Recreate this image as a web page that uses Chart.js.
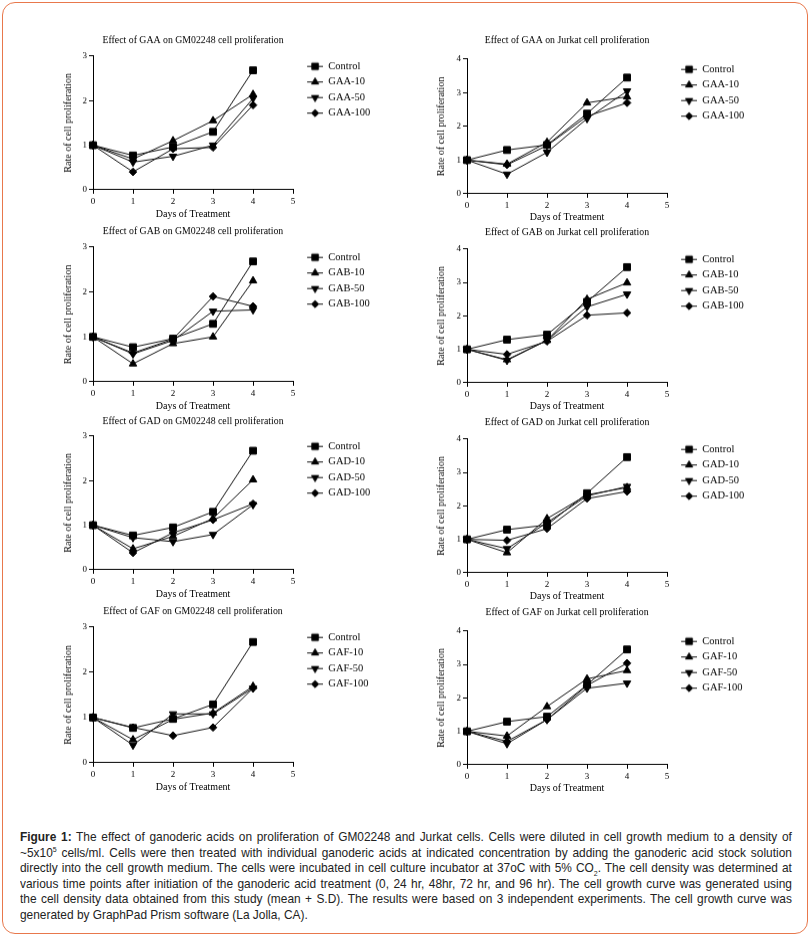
<!DOCTYPE html>
<html><head><meta charset="utf-8">
<script src="https://cdn.jsdelivr.net/npm/chart.js@4.4.1/dist/chart.umd.min.js"></script>
<style>
html,body{margin:0;padding:0;background:#fff;}
body{width:811px;height:938px;position:relative;overflow:hidden;}
#frame{position:absolute;left:2px;top:2px;width:806px;height:932px;border:1.5px solid #e8784c;border-radius:13px;box-sizing:border-box;}
.panel{position:absolute;}
#caption{position:absolute;left:20px;top:829px;width:830px;font-family:"Liberation Sans",Arial,sans-serif;font-size:12.8px;line-height:15.6px;color:#222;transform:scaleX(0.93);transform-origin:0 0;}
#caption div{text-align:justify;text-align-last:justify;}
#caption div.last{text-align-last:left;}
sup,sub{font-size:7.5px;line-height:0;}
</style></head>
<body>
<div id="frame"></div>
<div id="caption">
<div><b>Figure 1:</b> The effect of ganoderic acids on proliferation of GM02248 and Jurkat cells. Cells were diluted in cell growth medium to a density of</div>
<div>~5x10<sup>5</sup> cells/ml. Cells were then treated with individual ganoderic acids at indicated concentration by adding the ganoderic acid stock solution</div>
<div>directly into the cell growth medium. The cells were incubated in cell culture incubator at 37oC with 5% CO<sub>2</sub>. The cell density was determined at</div>
<div>various time points after initiation of the ganoderic acid treatment (0, 24 hr, 48hr, 72 hr, and 96 hr). The cell growth curve was generated using</div>
<div>the cell density data obtained from this study (mean + S.D). The results were based on 3 independent experiments. The cell growth curve was</div>
<div class="last">generated by GraphPad Prism software (La Jolla, CA).</div>
</div>
<script>
// ---------- data ----------
const days = [0, 1, 2, 3, 4];
const xTicks = [0, 1, 2, 3, 4, 5];

// GM02248 cells
const gaaGM_control = [1.00, 0.77, 0.96, 1.30, 2.68];
const gaaGM_10      = [1.00, 0.69, 1.10, 1.55, 2.14];
const gaaGM_50      = [1.00, 0.62, 0.75, 1.00, 2.05];
const gaaGM_100     = [1.00, 0.40, 0.92, 0.95, 1.90];

const gabGM_control = [1.00, 0.77, 0.96, 1.29, 2.68];
const gabGM_10      = [1.00, 0.40, 0.85, 1.00, 2.25];
const gabGM_50      = [1.00, 0.62, 0.92, 1.57, 1.60];
const gabGM_100     = [1.00, 0.64, 0.95, 1.90, 1.68];

const gadGM_control = [1.00, 0.77, 0.95, 1.30, 2.67];
const gadGM_10      = [1.00, 0.47, 0.75, 1.15, 2.02];
const gadGM_50      = [1.00, 0.72, 0.63, 0.79, 1.46];
const gadGM_100     = [1.00, 0.38, 0.83, 1.12, 1.48];

const gafGM_control = [1.00, 0.77, 0.97, 1.29, 2.67];
const gafGM_10      = [1.00, 0.51, 0.96, 1.10, 1.69];
const gafGM_50      = [1.00, 0.39, 1.08, 1.08, 1.65];
const gafGM_100     = [1.00, 0.78, 0.60, 0.78, 1.65];

// Jurkat cells
const gaaJK_control = [1.00, 1.30, 1.45, 2.38, 3.45];
const gaaJK_10      = [1.00, 0.88, 1.53, 2.70, 2.88];
const gaaJK_50      = [1.00, 0.58, 1.23, 2.23, 3.05];
const gaaJK_100     = [1.00, 0.86, 1.43, 2.30, 2.70];

const gabJK_control = [1.00, 1.29, 1.44, 2.42, 3.46];
const gabJK_10      = [1.00, 0.69, 1.27, 2.50, 2.99];
const gabJK_50      = [1.00, 0.67, 1.27, 2.27, 2.65];
const gabJK_100     = [1.00, 0.85, 1.24, 2.02, 2.09];

const gadJK_control = [1.00, 1.29, 1.43, 2.38, 3.46];
const gadJK_10      = [1.00, 0.60, 1.62, 2.33, 2.55];
const gadJK_50      = [1.00, 0.72, 1.50, 2.30, 2.58];
const gadJK_100     = [1.00, 0.97, 1.32, 2.22, 2.43];

const gafJK_control = [1.00, 1.29, 1.44, 2.39, 3.45];
const gafJK_10      = [1.00, 0.86, 1.74, 2.57, 2.82];
const gafJK_50      = [1.00, 0.63, 1.35, 2.29, 2.44];
const gafJK_100     = [1.00, 0.70, 1.35, 2.37, 3.04];

const namesGAA = ['Control', 'GAA-10', 'GAA-50', 'GAA-100'];
const namesGAB = ['Control', 'GAB-10', 'GAB-50', 'GAB-100'];
const namesGAD = ['Control', 'GAD-10', 'GAD-50', 'GAD-100'];
const namesGAF = ['Control', 'GAF-10', 'GAF-50', 'GAF-100'];

// ---------- layout / style ----------
const SERIF = '"Liberation Serif", "Times New Roman", serif';
const markerStyles = [
  {pointStyle: 'rect', rotation: 0, radius: 4.8},
  {pointStyle: 'triangle', rotation: 0, radius: 4.3},
  {pointStyle: 'triangle', rotation: 180, radius: 4.3},
  {pointStyle: 'rectRot', rotation: 0, radius: 3.8}
];

const panels = [
  {title: 'Effect of GAA on GM02248 cell proliferation', names: namesGAA, series: [gaaGM_control, gaaGM_10, gaaGM_50, gaaGM_100], yMax: 3, side: 'L', area: {l: 93, r: 293, t: 56, b: 189}, titleY: 41},
  {title: 'Effect of GAA on Jurkat cell proliferation', names: namesGAA, series: [gaaJK_control, gaaJK_10, gaaJK_50, gaaJK_100], yMax: 4, side: 'R', area: {l: 467, r: 667, t: 59, b: 193}, titleY: 41},
  {title: 'Effect of GAB on GM02248 cell proliferation', names: namesGAB, series: [gabGM_control, gabGM_10, gabGM_50, gabGM_100], yMax: 3, side: 'L', area: {l: 93, r: 293, t: 247, b: 381}, titleY: 232},
  {title: 'Effect of GAB on Jurkat cell proliferation', names: namesGAB, series: [gabJK_control, gabJK_10, gabJK_50, gabJK_100], yMax: 4, side: 'R', area: {l: 467, r: 667, t: 249, b: 382}, titleY: 233},
  {title: 'Effect of GAD on GM02248 cell proliferation', names: namesGAD, series: [gadGM_control, gadGM_10, gadGM_50, gadGM_100], yMax: 3, side: 'L', area: {l: 93, r: 293, t: 436, b: 569}, titleY: 422},
  {title: 'Effect of GAD on Jurkat cell proliferation', names: namesGAD, series: [gadJK_control, gadJK_10, gadJK_50, gadJK_100], yMax: 4, side: 'R', area: {l: 467, r: 667, t: 439, b: 572}, titleY: 423},
  {title: 'Effect of GAF on GM02248 cell proliferation', names: namesGAF, series: [gafGM_control, gafGM_10, gafGM_50, gafGM_100], yMax: 3, side: 'L', area: {l: 93, r: 293, t: 627, b: 762}, titleY: 612},
  {title: 'Effect of GAF on Jurkat cell proliferation', names: namesGAF, series: [gafJK_control, gafJK_10, gafJK_50, gafJK_100], yMax: 4, side: 'R', area: {l: 467, r: 667, t: 631, b: 764}, titleY: 613}
];

const SW_W = 25;
function legendSwatch(m) {
  const c = document.createElement('canvas');
  c.width = SW_W; c.height = 11;
  const ctx = c.getContext('2d');
  ctx.strokeStyle = '#111'; ctx.lineWidth = 1;
  ctx.beginPath(); ctx.moveTo(9, 5.5); ctx.lineTo(SW_W, 5.5); ctx.stroke();
  ctx.fillStyle = '#000'; ctx.strokeStyle = '#000';
  Chart.helpers.drawPoint(ctx, {pointStyle: m.pointStyle, rotation: m.rotation, radius: m.radius * 0.95, borderWidth: 1}, 17, 5.5);
  return c;
}
const swatches = markerStyles.map(legendSwatch);

function makeChart(p) {
  const titleSize = 9.8, titleLH = titleSize * 1.2;
  const axisTitleSize = 10, axisLH = axisTitleSize * 1.2;
  const yW = 40;
  const xH = p.side === 'L' ? 30 : 29;
  const canvasLeft = p.area.l - yW;
  const canvasTop = p.titleY - titleLH / 2 - 4;
  const canvasW = p.side === 'L' ? 345 : 372;
  const canvasH = p.area.b + xH - canvasTop;
  const titlePadBottom = p.area.t - canvasTop - 4 - titleLH;
  const yTitleTop = (p.side === 'L' ? 68 : 441.7) - (p.area.l - yW) - axisLH / 2;

  const div = document.createElement('div');
  div.className = 'panel';
  div.style.left = canvasLeft + 'px'; div.style.top = canvasTop + 'px';
  div.style.width = canvasW + 'px'; div.style.height = canvasH + 'px';
  const cv = document.createElement('canvas');
  div.appendChild(cv);
  document.body.appendChild(div);

  const datasets = p.series.map((arr, i) => ({
    label: p.names[i],
    data: arr.map((v, j) => ({x: days[j], y: v})),
    borderColor: '#111',
    backgroundColor: '#000',
    borderWidth: 1,
    pointStyle: markerStyles[i].pointStyle,
    pointRotation: markerStyles[i].rotation,
    pointRadius: markerStyles[i].radius,
    pointBorderWidth: 1,
    pointBorderColor: '#000',
    pointBackgroundColor: '#000',
    tension: 0,
    clip: false
  }));

  const tickFont = {family: SERIF, size: 9};
  const chart = new Chart(cv, {
    type: 'line',
    data: {datasets},
    options: {
      responsive: true,
      maintainAspectRatio: false,
      animation: false,
      layout: {padding: {left: 0, right: 0, top: 0, bottom: 0}},
      plugins: {
        tooltip: {enabled: false},
        title: {
          display: true, text: p.title, fullSize: false,
          font: {family: SERIF, size: titleSize, weight: 'normal'}, color: '#000',
          padding: {top: 4, bottom: titlePadBottom}
        },
        legend: {
          position: 'right', align: 'start', fullSize: false,
          labels: {
            usePointStyle: true, pointStyleWidth: SW_W, padding: 5,
            font: {family: SERIF, size: 10.5}, color: '#000',
            generateLabels: (ch) => Chart.defaults.plugins.legend.labels.generateLabels(ch)
              .map((it, i) => Object.assign(it, {pointStyle: swatches[i], rotation: 0}))
          }
        }
      },
      scales: {
        x: {
          type: 'linear', min: 0, max: 5,
          afterBuildTicks: (s) => { s.ticks = xTicks.map(v => ({value: v})); },
          ticks: {font: tickFont, color: '#000', padding: 2, maxRotation: 0},
          grid: {display: true, drawOnChartArea: false, drawTicks: true, tickLength: 4, color: '#000'},
          border: {display: true, color: '#000', width: 1},
          title: {display: true, text: 'Days of Treatment', color: '#000', font: {family: SERIF, size: axisTitleSize}, padding: {top: 0, bottom: 0}},
          afterFit: (s) => { s.height = xH; }
        },
        y: {
          type: 'linear', min: 0, max: p.yMax,
          ticks: {stepSize: 1, font: tickFont, color: '#000', padding: 2},
          grid: {display: true, drawOnChartArea: false, drawTicks: true, tickLength: 4, color: '#000'},
          border: {display: true, color: '#000', width: 1},
          title: {display: true, text: 'Rate of cell proliferation', color: '#000', font: {family: SERIF, size: axisTitleSize}, padding: {top: yTitleTop, bottom: 0}},
          afterFit: (s) => { s.width = yW; }
        }
      }
    }
  });
  // fit the plot area's right edge to the reference (legend width depends on text)
  let pad = 0;
  for (let k = 0; k < 6; k++) {
    const diff = chart.chartArea.right - (p.area.r - canvasLeft);
    if (Math.abs(diff) < 0.25) break;
    pad += diff;
    chart.options.layout.padding = {left: 0, top: 0, bottom: 0, right: pad};
    chart.update();
  }
  return chart;
}

panels.forEach(makeChart);
</script>
</body></html>
